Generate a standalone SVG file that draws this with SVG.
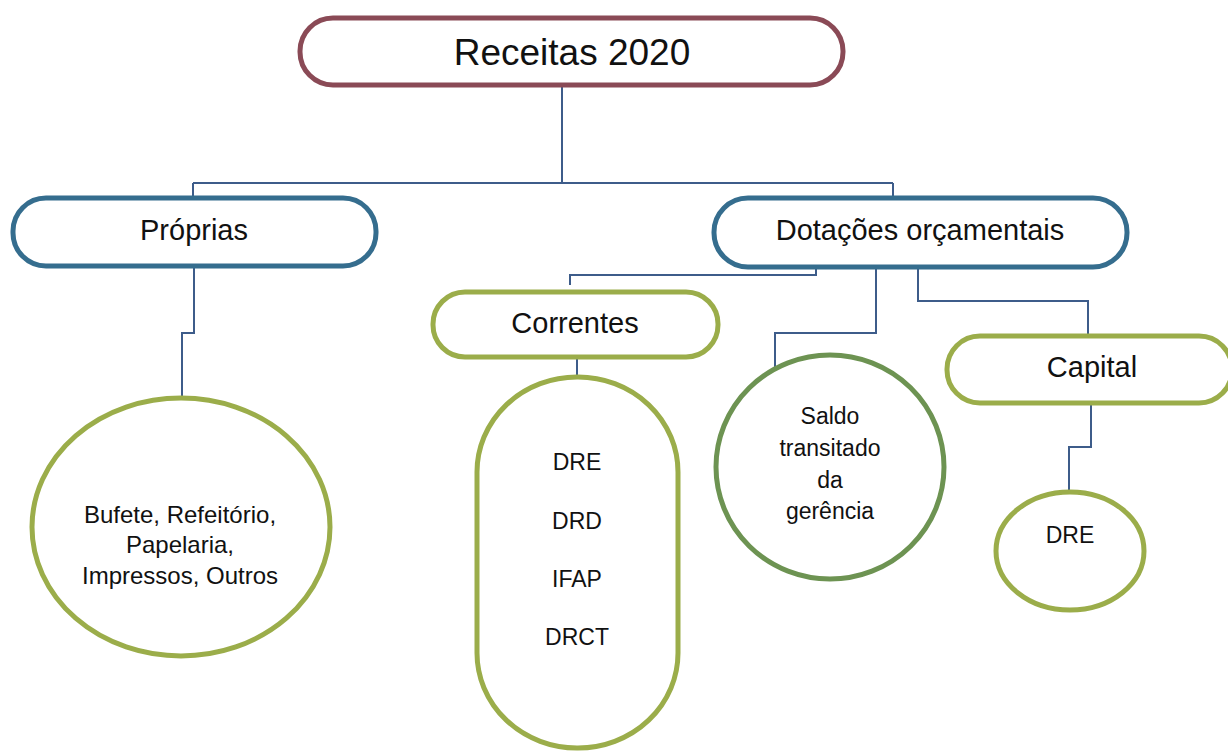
<svg xmlns="http://www.w3.org/2000/svg" width="1228" height="751" viewBox="0 0 1228 751">
<style>
.bg{fill:#ffffff}
.n{fill:#ffffff;stroke-width:5}
.maroon{stroke:#8a4a56}
.blue{stroke:#356d8e}
.green{stroke:#9bad4a}
.dgreen{stroke:#6d9352}
.c{fill:none;stroke:#3d5c8a;stroke-width:2}
text{font-family:"Liberation Sans",Arial,sans-serif;fill:#111111;text-anchor:middle}
.t1{font-size:37px}
.t2{font-size:29px}
.t3{font-size:23px}
</style>
<rect class="bg" x="0" y="0" width="1228" height="751"/>
<g id="connectors">
<path class="c" d="M562 86 V183"/>
<path class="c" d="M193 183 H893"/>
<path class="c" d="M193 183 V198"/>
<path class="c" d="M893 183 V198"/>
<path class="c" d="M194 266 V333 H182 V399"/>
<path class="c" d="M816 267 V275 H570 V285"/>
<path class="c" d="M876 267 V333 H775 V378"/>
<path class="c" d="M918 267 V301 H1088 V336"/>
<path class="c" d="M577 357 V377"/>
<path class="c" d="M1091 403 V447 H1069 V492"/>
</g>
<g id="receitas">
<rect class="n maroon" x="300" y="18" width="543" height="67" rx="33"/>
<text class="t1" x="572" y="65">Receitas 2020</text>
</g>
<g id="proprias">
<rect class="n blue" x="13" y="198" width="363" height="68" rx="33"/>
<text class="t2" x="194" y="240">Próprias</text>
</g>
<g id="dotacoes">
<rect class="n blue" x="714" y="198" width="413" height="69" rx="34"/>
<text class="t2" x="920" y="240">Dotações orçamentais</text>
</g>
<g id="correntes">
<rect class="n green" x="433" y="292" width="285" height="65" rx="32"/>
<text class="t2" x="575" y="333">Correntes</text>
</g>
<g id="capital">
<rect class="n green" x="947" y="336" width="285" height="67" rx="33"/>
<text class="t2" x="1092" y="377">Capital</text>
</g>
<g id="bufete">
<ellipse class="n green" cx="181" cy="527" rx="149" ry="129"/>
<text class="t3" x="180" y="523" style="font-size:24px">Bufete, Refeitório,</text>
<text class="t3" x="180" y="553" style="font-size:24px">Papelaria,</text>
<text class="t3" x="180" y="584" style="font-size:24px">Impressos, Outros</text>
</g>
<g id="correntes-lista">
<rect class="n green" x="477" y="377" width="201" height="371" rx="100" ry="95"/>
<text class="t3" x="577" y="470">DRE</text>
<text class="t3" x="577" y="529">DRD</text>
<text class="t3" x="577" y="587">IFAP</text>
<text class="t3" x="577" y="645">DRCT</text>
</g>
<g id="saldo">
<ellipse class="n dgreen" cx="830" cy="467" rx="114" ry="112"/>
<text class="t3" x="830" y="424">Saldo</text>
<text class="t3" x="830" y="456">transitado</text>
<text class="t3" x="830" y="488">da</text>
<text class="t3" x="830" y="519">gerência</text>
</g>
<g id="dre-capital">
<ellipse class="n green" cx="1070" cy="551" rx="74" ry="59"/>
<text class="t3" x="1070" y="543">DRE</text>
</g>
</svg>
